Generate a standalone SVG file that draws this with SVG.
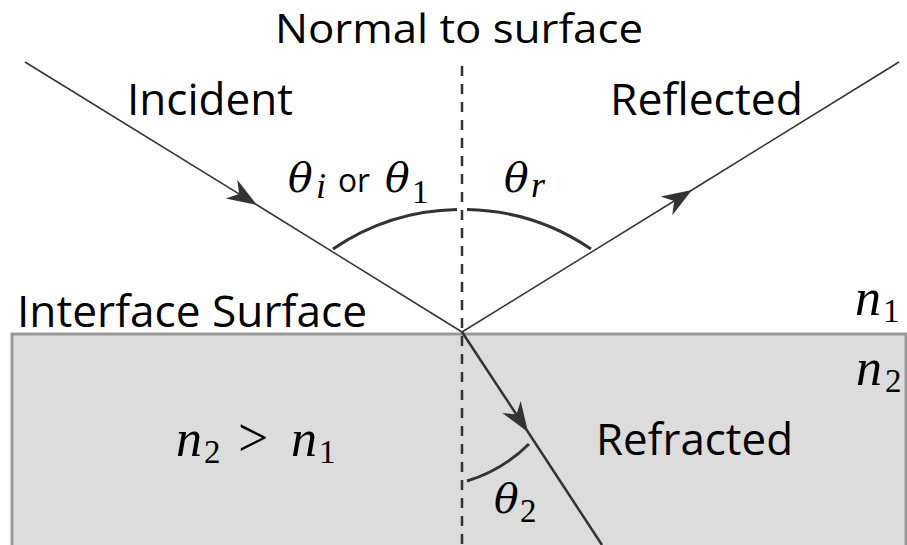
<svg xmlns="http://www.w3.org/2000/svg" width="907" height="545" viewBox="0 0 907 545">
<style>
.lbl{font-family:"Open Sans","Liberation Sans",sans-serif;font-size:44px;fill:#000}
.math{font-family:"Liberation Serif","DejaVu Serif",serif;font-style:italic;fill:#000}
.th{font-family:"DejaVu Serif","Liberation Serif",serif;font-style:italic;font-size:41px;fill:#000}
.up{font-style:normal}
.ray{fill:none;stroke:#333}
.arc{fill:none;stroke:#333;stroke-width:3}
</style>
<defs>
<marker id="ah" markerUnits="userSpaceOnUse" markerWidth="40" markerHeight="30" viewBox="-32 -15 40 30" refX="0" refY="0" orient="auto">
<path d="M0,0 L-30,-11 L-21,0 L-30,11 Z" fill="#333"/>
</marker>
</defs>
<rect width="907" height="545" fill="#fff"/>
<g id="medium2">
<rect x="12" y="334" width="894" height="230" fill="#dcdcdc" stroke="#999" stroke-width="3"/>
</g>
<g id="connectors">
<line x1="462" y1="66" x2="462" y2="545" stroke="#333" stroke-width="2.5" stroke-dasharray="10 8"/>
<path class="ray" stroke-width="1.5" d="M25,62 L257,205 L462,332" marker-mid="url(#ah)"/>
<path class="ray" stroke-width="1.5" d="M462,332 L692,190 L899,62" marker-mid="url(#ah)"/>
<path class="ray" stroke-width="2.5" d="M462,332 L528,432 L602,545" marker-mid="url(#ah)"/>
<path class="arc" d="M333,249 A228,228 0 0 1 457,209.5"/>
<path class="arc" d="M467,209.5 A228,228 0 0 1 591,249"/>
<path class="arc" stroke-width="2.5" d="M467,481 A150,150 0 0 0 529,444"/>
</g>
<g id="normal-label"><text class="lbl" x="275" y="43" style="font-size:40px" textLength="368" lengthAdjust="spacingAndGlyphs">Normal to surface</text></g>
<g id="incident-label"><text class="lbl" x="127" y="115" textLength="166" lengthAdjust="spacingAndGlyphs">Incident</text></g>
<g id="reflected-label"><text class="lbl" x="610" y="115" textLength="193" lengthAdjust="spacingAndGlyphs">Reflected</text></g>
<g id="interface-label"><text class="lbl" x="17" y="327" textLength="350" lengthAdjust="spacingAndGlyphs">Interface Surface</text></g>
<g id="refracted-label"><text class="lbl" x="596" y="455" textLength="197" lengthAdjust="spacingAndGlyphs">Refracted</text></g>
<g id="theta1-label">
<text class="th" x="288" y="192">θ</text>
<text class="math" x="316" y="198" font-size="36">i</text>
<text class="lbl" x="338" y="192" style="font-size:32px" textLength="32" lengthAdjust="spacingAndGlyphs">or</text>
<text class="th" x="385" y="192">θ</text>
<text class="math up" x="412" y="203" font-size="33">1</text>
</g>
<g id="thetar-label">
<text class="th" x="504" y="192">θ</text>
<text class="math" x="531" y="197" font-size="36">r</text>
</g>
<g id="theta2-label">
<text class="th" x="494" y="513">θ</text>
<text class="math up" x="520" y="522" font-size="33">2</text>
</g>
<g id="n-relation">
<text class="math" x="176" y="456" font-size="52">n</text>
<text class="math up" x="204" y="463" font-size="33">2</text>
<text class="math up" x="238" y="456" font-size="54">&gt;</text>
<text class="math" x="291" y="456" font-size="52">n</text>
<text class="math up" x="319" y="463" font-size="33">1</text>
</g>
<g id="n1-label">
<text class="math" x="855" y="315" font-size="52">n</text>
<text class="math up" x="883" y="322" font-size="33">1</text>
</g>
<g id="n2-label">
<text class="math" x="856" y="385" font-size="52">n</text>
<text class="math up" x="885" y="392" font-size="33">2</text>
</g>
</svg>
